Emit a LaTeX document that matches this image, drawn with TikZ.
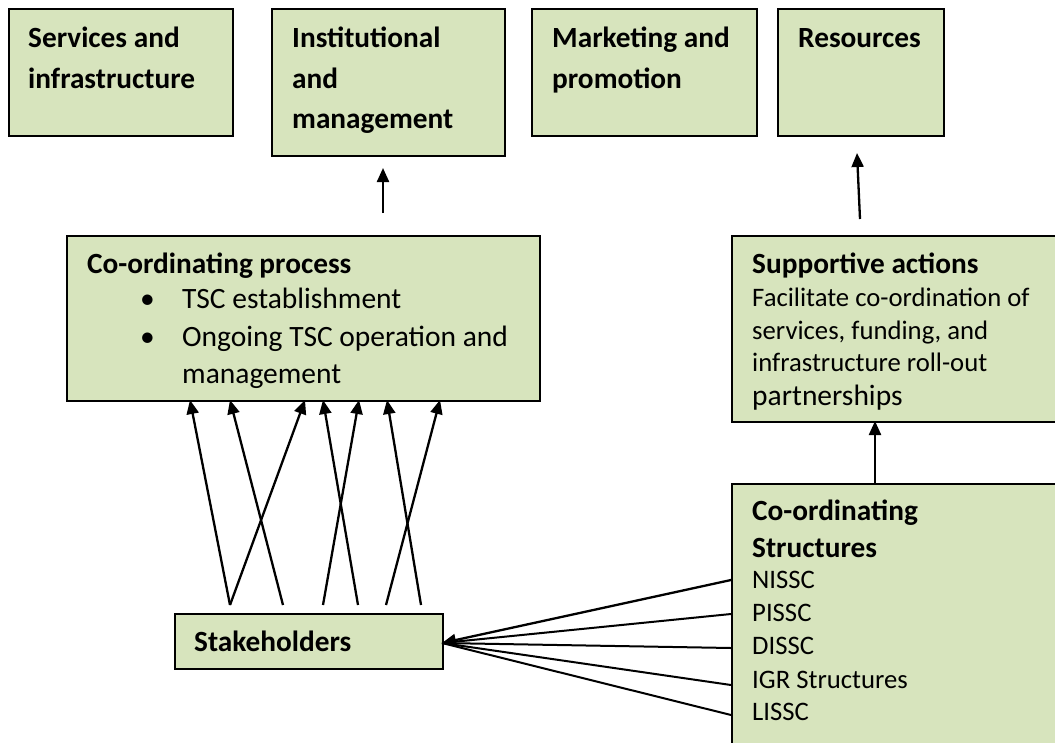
\documentclass[tikz,border=0pt]{standalone}
\usepackage{fontspec}
\setmainfont{Carlito}
\usetikzlibrary{arrows.meta,calc}
\definecolor{boxgreen}{HTML}{D7E4BD}
\tikzset{
  box/.style={draw=black, fill=boxgreen, line width=2pt, rectangle, inner sep=0pt},
  hd/.style={anchor=base west, inner sep=0pt, font=\fontsize{29.3}{34}\selectfont\bfseries},
  bd/.style={anchor=base west, inner sep=0pt, font=\fontsize{29.5}{34}\selectfont},
  sm/.style={anchor=base west, inner sep=0pt, font=\fontsize{26.7}{32}\selectfont},
  arr/.style={line width=2.3pt, -{Triangle[length=14pt,width=12pt]}},
  ln/.style={line width=2pt}
}
\begin{document}
\begin{tikzpicture}[x=1pt,y=-1pt]
\useasboundingbox (0,0) rectangle (1055,742);
% top boxes
\node[box, minimum width=224, minimum height=127, anchor=north west] (srv) at (8,8) {};
\node[box, minimum width=233, minimum height=147, anchor=north west] (ins) at (271,8) {};
\node[box, minimum width=225, minimum height=127, anchor=north west] (mkt) at (531,8) {};
\node[box, minimum width=166, minimum height=127, anchor=north west] (res) at (777,8) {};
\node[hd] (t1) at (28,47) {Services and};
\node[hd] (t2) at (28,88) {infrastructure};
\node[hd] (t3) at (292,47) {Institutional};
\node[hd] (t4) at (292,88) {and};
\node[hd] (t5) at (292,128) {management};
\node[hd] (t6) at (552,47) {Marketing and};
\node[hd] (t7) at (552,88) {promotion};
\node[hd] (t8) at (798,47) {Resources};
% middle boxes
\node[box, minimum width=473, minimum height=165, anchor=north west] (cop) at (66,235) {};
\node[box, minimum width=330, minimum height=186, anchor=north west] (sup) at (731,235) {};
\node[hd] (c1) at (87,273) {Co-ordinating process};
\node[bd] (b1) at (140,308) {\textbullet};
\node[bd] (c2) at (182,308) {TSC establishment};
\node[bd] (b2) at (140,346) {\textbullet};
\node[bd] (c3) at (182,346) {Ongoing TSC operation and};
\node[bd] (c4) at (182,383) {management};
\node[hd] (s1) at (752,273) {Supportive actions};
\node[sm] (s2) at (752,306) {Facilitate co-ordination of};
\node[sm] (s3) at (752,339) {services, funding, and};
\node[sm] (s4) at (752,371) {infrastructure roll-out};
\node[bd] (s5) at (752,405) {partnerships};
% bottom boxes
\node[box, minimum width=330, minimum height=270, anchor=north west] (cst) at (731,483) {};
\node[box, minimum width=268, minimum height=55, anchor=north west] (stk) at (174,613) {};
\node[hd] (k1) at (194,651) {Stakeholders};
\node[hd] (r1) at (752,520) {Co-ordinating};
\node[hd] (r2) at (752,557) {Structures};
\node[sm] (r3) at (752,588) {NISSC};
\node[sm] (r4) at (752,621) {PISSC};
\node[sm] (r5) at (752,654) {DISSC};
\node[sm] (r6) at (752,688) {IGR Structures};
\node[sm] (r7) at (752,720) {LISSC};
% vertical arrows
\coordinate (a1) at (383,213);
\coordinate (a1t) at (383,168);
\draw[arr] (a1) -- (a1t);
\coordinate (a2) at (860,219);
\coordinate (a2t) at (857,153);
\draw[arr] (a2) -- (a2t);
\coordinate (a3) at (875,484);
\coordinate (a3t) at (875,421);
\draw[arr] (a3) -- (a3t);
% stakeholder arrows
\foreach \sx/\tx in {230/190, 230/305, 283/230, 323/359, 358/323, 386/440, 421/387}{
  \draw[arr] (\sx,605) -- (\tx,400);
}
% coordinating structures to stakeholders
\coordinate (sp) at (442,643);
\draw[arr] (731,580) -- (sp);
\draw[ln] (731,614) -- (sp);
\draw[ln] (731,648) -- (sp);
\draw[ln] (731,685) -- (sp);
\draw[ln] (731,715) -- (sp);
\end{tikzpicture}
\end{document}
